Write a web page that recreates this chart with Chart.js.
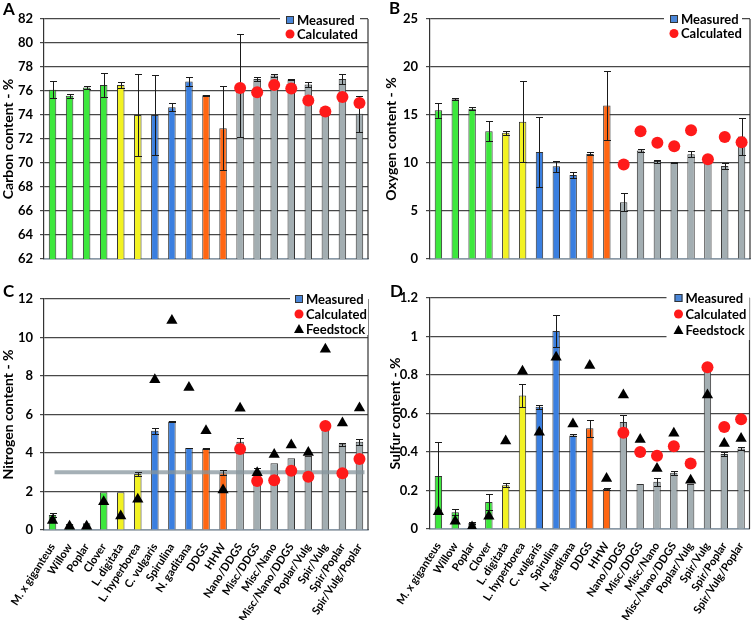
<!DOCTYPE html>
<html><head><meta charset="utf-8">
<script src="https://cdn.jsdelivr.net/npm/chart.js@4.4.1/dist/chart.umd.min.js"></script>
<style>
html,body{margin:0;padding:0;background:#fff;}
#wrap{position:relative;width:756px;height:620px;overflow:hidden;background:#fff;}
canvas{position:absolute;}
</style></head><body>
<div id="wrap">
<canvas id="cA" width="378" height="280" style="left:0;top:0"></canvas>
<canvas id="cB" width="378" height="280" style="left:378px;top:0"></canvas>
<canvas id="cC" width="378" height="340" style="left:0;top:280px"></canvas>
<canvas id="cD" width="378" height="340" style="left:378px;top:280px"></canvas>
</div>
<script>
// ---------------- DATA ----------------
const categories = ['M. x giganteus','Willow','Poplar','Clover','L. digitata','L. hyperborea','C. vulgaris','Spirulina','N. gaditana','DDGS','HHW','Nano/DDGS','Misc/DDGS','Misc/Nano','Misc/Nano/DDGS','Poplar/Vulg','Spir/Vulg','Spir/Poplar','Spir/Vulg/Poplar'];
const categoryGroups = ['terrestrial','terrestrial','terrestrial','terrestrial','macroalgae','macroalgae','microalgae','microalgae','microalgae','waste','waste','blend','blend','blend','blend','blend','blend','blend','blend'];

const carbonMeasured   = [76.1, 75.6, 76.3, 76.5, 76.5, 74.0, 74.0, 74.65, 76.8, 75.65, 72.9, 76.45, 77.0, 77.3, 76.95, 76.55, 74.0, 77.0, 74.1];
const carbonError      = [0.7, 0.15, 0.1, 1.0, 0.25, 3.4, 3.3, 0.35, 0.4, 0.05, 3.5, 4.3, 0.2, 0.15, 0.05, 0.2, 0, 0.45, 1.5];
const carbonCalculated = [null,null,null,null,null,null,null,null,null,null,null, 76.25, 75.9, 76.5, 76.2, 75.2, 74.3, 75.5, 75.0];
const carbonTickLabels = ['62','64','66','68','70','72','74','76','78','80','82'];

const oxygenMeasured   = [15.5, 16.65, 15.65, 13.3, 13.15, 14.3, 11.15, 9.65, 8.75, 10.95, 16.0, 5.9, 11.3, 10.2, 10.1, 10.9, 10.1, 9.7, 12.75];
const oxygenError      = [0.8, 0.1, 0.15, 1.05, 0.2, 4.2, 3.6, 0.55, 0.3, 0.15, 3.6, 0.95, 0.2, 0.15, 0.05, 0.3, 0, 0.35, 1.9];
const oxygenCalculated = [null,null,null,null,null,null,null,null,null,null,null, 9.85, 13.3, 12.1, 11.75, 13.4, 10.4, 12.7, 12.15];
const oxygenTickLabels = ['0','5','10','15','20','25'];

const nitrogenMeasured   = [0.78, 0.31, 0.35, 1.96, 1.96, 2.91, 5.15, 5.63, 4.26, 4.23, 3.0, 4.59, 3.08, 3.47, 3.73, 3.85, 5.41, 4.45, 4.58];
const nitrogenError      = [0.12, 0, 0, 0, 0, 0.12, 0.15, 0.03, 0.02, 0.02, 0.12, 0.2, 0.12, 0, 0, 0, 0, 0.07, 0.17];
const nitrogenCalculated = [null,null,null,null,null,null,null,null,null,null,null, 4.21, 2.55, 2.58, 3.08, 2.77, 5.4, 2.95, 3.69];
const nitrogenFeedstock  = [0.5, 0.2, 0.2, 1.47, 0.73, 1.6, 7.8, 10.88, 7.4, 5.16, 2.08, 6.33, 2.98, 3.92, 4.42, 4.02, 9.39, 5.56, 6.34];
const nitrogenReference  = 3;
const nitrogenTickLabels = ['0','2','4','6','8','10','12'];

const sulfurMeasured   = [0.275, 0.087, 0.031, 0.14, 0.227, 0.694, 0.635, 1.028, 0.486, 0.523, 0.208, 0.556, 0.234, 0.245, 0.292, 0.234, 0.823, 0.39, 0.418];
const sulfurError      = [0.178, 0.015, 0.005, 0.04, 0.01, 0.06, 0.01, 0.085, 0.005, 0.045, 0.003, 0.035, 0, 0.02, 0.01, 0, 0, 0.01, 0.01];
const sulfurCalculated = [null,null,null,null,null,null,null,null,null,null,null, 0.50, 0.40, 0.38, 0.43, 0.34, 0.84, 0.53, 0.57];
const sulfurFeedstock  = [0.09, 0.04, 0.01, 0.066, 0.457, 0.82, 0.503, 0.892, 0.545, 0.849, 0.262, 0.696, 0.465, 0.314, 0.497, 0.253, 0.696, 0.444, 0.47];
const sulfurTickLabels = ['0','0.2','0.4','0.6','0.8','1','1.2'];

// ---------------- STYLE ----------------
const FONT = "Lato, 'Open Sans', 'Liberation Sans', sans-serif";
const groupColors = {terrestrial:'#3de83d', macroalgae:'#f2f222', microalgae:'#3a7fe0', waste:'#ff6612', blend:'#a3aeb2'};
const barColors = categoryGroups.map(g => groupColors[g]);

const decor = {
  id: 'decor',
  afterDatasetDraw(chart, args, opts) {
    if (args.meta.type !== 'bar') return;
    const ctx = chart.ctx, y = chart.scales.y, bars = args.meta.data;
    const values = chart.data.datasets[args.index].data;
    ctx.save();
    if (opts.refValue != null) {
      const yy = y.getPixelForValue(opts.refValue);
      ctx.strokeStyle = 'rgba(135,150,158,0.75)';
      ctx.lineWidth = 4;
      ctx.beginPath();
      ctx.moveTo(bars[0].x + 2, yy);
      ctx.lineTo(bars[bars.length - 1].x + 5, yy);
      ctx.stroke();
    }
    ctx.strokeStyle = '#1a1a1a';
    ctx.lineWidth = 1;
    bars.forEach((bar, i) => {
      const e = opts.errors[i];
      if (!e) return;
      const v = values[i];
      const x = Math.round(bar.x) + 0.5;
      const yt = Math.round(y.getPixelForValue(v + e)) + 0.5;
      const yb = Math.round(y.getPixelForValue(v - e)) + 0.5;
      ctx.beginPath();
      ctx.moveTo(x, yt); ctx.lineTo(x, yb);
      ctx.moveTo(x - 3.5, yt); ctx.lineTo(x + 3.5, yt);
      ctx.moveTo(x - 3.5, yb); ctx.lineTo(x + 3.5, yb);
      ctx.stroke();
    });
    ctx.restore();
  },
  afterDraw(chart, args, opts) {
    const ctx = chart.ctx, a = chart.chartArea;
    ctx.save();
    // right frame
    ctx.strokeStyle = '#333';
    ctx.lineWidth = 1.2;
    ctx.beginPath(); ctx.moveTo(a.right, a.top); ctx.lineTo(a.right, a.bottom); ctx.stroke();
    // legend
    const L = opts.legend;
    ctx.fillStyle = '#fff';
    ctx.fillRect(a.right - L.boxLeft, a.top - L.boxTop, L.boxLeft - L.boxRightGap, L.boxH);
    ctx.font = 'bold 13px ' + FONT;
    ctx.textBaseline = 'middle';
    ctx.textAlign = 'left';
    L.items.forEach((it, k) => {
      const cy = a.top + L.y0 + k * L.rowH;
      const mx = a.right - L.markerOff;
      if (it === 'Measured') {
        ctx.fillStyle = '#4a86d8'; ctx.fillRect(mx - 4, cy - 4, 8, 8);
        ctx.strokeStyle = '#333'; ctx.lineWidth = 1; ctx.strokeRect(mx - 4 + 0.5, cy - 4 + 0.5, 7, 7);
      } else if (it === 'Calculated') {
        ctx.fillStyle = '#ff1a1a'; ctx.beginPath(); ctx.arc(mx, cy, 4.5, 0, Math.PI * 2); ctx.fill();
      } else {
        ctx.fillStyle = '#000'; ctx.beginPath();
        ctx.moveTo(mx, cy - 5); ctx.lineTo(mx + 5, cy + 4); ctx.lineTo(mx - 5, cy + 4); ctx.closePath(); ctx.fill();
      }
      ctx.fillStyle = '#000';
      ctx.fillText(it, mx + 7, cy + 0.5);
    });
    // panel letter
    ctx.font = 'bold 17px ' + FONT;
    ctx.textBaseline = 'alphabetic';
    ctx.fillStyle = '#000';
    ctx.fillText(opts.letter, opts.letterX, opts.letterY);
    ctx.restore();
  }
};

function makeChart(id, cfg) {
  const datasets = [];
  datasets.push({
    type: 'line', label: 'Calculated', data: cfg.calculated, showLine: false,
    pointStyle: 'circle', pointRadius: 6, pointBackgroundColor: '#ff1a1a', pointBorderWidth: 0, order: 1
  });
  if (cfg.feedstock) datasets.push({
    type: 'line', label: 'Feedstock', data: cfg.feedstock, showLine: false,
    pointStyle: 'triangle', pointRadius: 6.5, pointBackgroundColor: '#000', pointBorderColor: '#000', pointBorderWidth: 0, order: 0
  });
  datasets.push({
    type: 'bar', label: 'Measured', data: cfg.measured, backgroundColor: barColors,
    borderColor: '#333', borderWidth: 1, barPercentage: 0.44, categoryPercentage: 1, order: 3
  });
  return new Chart(document.getElementById(id), {
    type: 'bar',
    data: { labels: categories, datasets },
    options: {
      responsive: false, animation: false, devicePixelRatio: 1,
      layout: { padding: cfg.padding },
      plugins: {
        legend: { display: false }, tooltip: { enabled: false },
        decor: { errors: cfg.errors, refValue: cfg.refValue, legend: cfg.legend, letter: cfg.letter, letterX: cfg.letterX, letterY: cfg.letterY }
      },
      scales: {
        x: {
          grid: { display: false },
          border: { display: true, color: '#8a9aa8', width: 1.5 },
          ticks: cfg.showX ? { display: true, autoSkip: false, minRotation: 57, maxRotation: 57, padding: 3, color: '#000', font: { family: FONT, size: 11, weight: 'bold' } } : { display: false },
          afterFit: s => { s.height = cfg.xHeight; }
        },
        y: {
          min: cfg.min, max: cfg.max,
          ticks: { stepSize: cfg.step, padding: cfg.tickPad, color: '#000', font: { family: FONT, size: 13, weight: 'bold' },
                   callback: (v, i) => cfg.tickLabels[i] },
          grid: { color: '#484848', lineWidth: 1.2, drawTicks: true, tickLength: 4 },
          border: { display: true, color: '#333', width: 1.2 },
          title: { display: true, text: cfg.title, color: '#000', font: { family: FONT, size: 14, weight: 'bold' }, padding: { top: cfg.titlePad, bottom: 0 } },
          afterFit: s => { s.width = cfg.yWidth; }
        }
      }
    },
    plugins: [decor]
  });
}

makeChart('cA', {
  measured: carbonMeasured, errors: carbonError, calculated: carbonCalculated,
  min: 62, max: 82, step: 2, tickLabels: carbonTickLabels, title: 'Carbon content - %',
  padding: { top: 19, right: 10, bottom: 21, left: 0 }, yWidth: 44, xHeight: 0, tickPad: 7, titlePad: 0, showX: false,
  legend: { items: ['Measured', 'Calculated'], markerOff: 78, y0: 1, rowH: 14, boxLeft: 88, boxRightGap: 8, boxTop: 10, boxH: 32 },
  letter: 'A', letterX: 3, letterY: 15
});
makeChart('cB', {
  measured: oxygenMeasured, errors: oxygenError, calculated: oxygenCalculated,
  min: 0, max: 25, step: 5, tickLabels: oxygenTickLabels, title: 'Oxygen content - %',
  padding: { top: 19, right: 5, bottom: 21, left: 0 }, yWidth: 52, xHeight: 0, tickPad: 8, titlePad: 5, showX: false,
  legend: { items: ['Measured', 'Calculated'], markerOff: 76, y0: 0, rowH: 14.5, boxLeft: 86, boxRightGap: 8, boxTop: 10, boxH: 32 },
  letter: 'B', letterX: 11, letterY: 14
});
makeChart('cC', {
  measured: nitrogenMeasured, errors: nitrogenError, calculated: nitrogenCalculated, feedstock: nitrogenFeedstock, refValue: nitrogenReference,
  min: 0, max: 12, step: 2, tickLabels: nitrogenTickLabels, title: 'Nitrogen content - %',
  padding: { top: 19, right: 10, bottom: 0, left: 0 }, yWidth: 44, xHeight: 90, tickPad: 7, titlePad: 0, showX: true,
  legend: { items: ['Measured', 'Calculated', 'Feedstock'], markerOff: 69, y0: 0, rowH: 15, boxLeft: 78, boxRightGap: 0, boxTop: 9, boxH: 45 },
  letter: 'C', letterX: 3, letterY: 17
});
makeChart('cD', {
  measured: sulfurMeasured, errors: sulfurError, calculated: sulfurCalculated, feedstock: sulfurFeedstock,
  min: 0, max: 1.2, step: 0.2, tickLabels: sulfurTickLabels, title: 'Sulfur content - %',
  padding: { top: 18, right: 5, bottom: 0, left: 0 }, yWidth: 52, xHeight: 91, tickPad: 8, titlePad: 9, showX: true,
  legend: { items: ['Measured', 'Calculated', 'Feedstock'], markerOff: 71, y0: 0, rowH: 16, boxLeft: 83, boxRightGap: 0, boxTop: 9, boxH: 51 },
  letter: 'D', letterX: 12, letterY: 17
});
</script>
</body></html>
